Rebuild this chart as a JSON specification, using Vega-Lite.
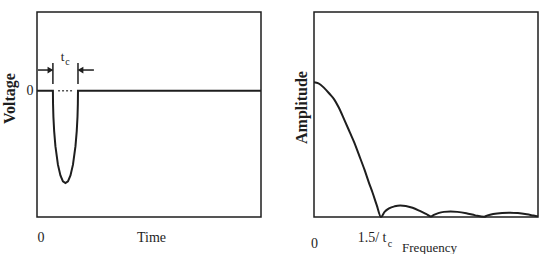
{
  "$schema": "https://vega.github.io/schema/vega-lite/v6.json",
  "padding": {"left": 0, "top": 11, "right": 0, "bottom": 0},
  "background": "white",
  "spacing": 53,
  "bounds": "flush",
  "config": {
    "font": "Liberation Serif",
    "view": {"stroke": "#1e1e1e", "strokeWidth": 1.5},
    "axis": {"grid": false, "ticks": false, "tickSize": 0, "domain": false, "labelColor": "#1e1e1e", "titleColor": "#1e1e1e", "labelFont": "Liberation Serif", "titleFont": "Liberation Serif"}
  },
  "hconcat": [
    {
      "width": 224,
      "height": 205,
      "layer": [
        {
          "data": {"values": [
            {"t": 0, "v": 0}, {"t": 0.071, "v": 0}, {"t": 0.0716, "v": -0.165}, {"t": 0.0732, "v": -0.328},
            {"t": 0.0766, "v": -0.51}, {"t": 0.0822, "v": -0.702}, {"t": 0.0934, "v": -0.936},
            {"t": 0.1046, "v": -1.073}, {"t": 0.1158, "v": -1.147}, {"t": 0.127, "v": -1.17},
            {"t": 0.1382, "v": -1.147}, {"t": 0.1494, "v": -1.073}, {"t": 0.1606, "v": -0.936},
            {"t": 0.1718, "v": -0.702}, {"t": 0.1774, "v": -0.51}, {"t": 0.1808, "v": -0.328},
            {"t": 0.1824, "v": -0.165}, {"t": 0.183, "v": 0}, {"t": 1, "v": 0}
          ]},
          "mark": {"type": "line", "color": "#1e1e1e", "strokeWidth": 2},
          "encoding": {
            "x": {"field": "t", "type": "quantitative", "scale": {"domain": [0, 1]},
              "axis": {"values": [0], "labelExpr": "'0'", "title": "Time", "titleX": 114, "titleY": 24, "titleBaseline": "alphabetic", "titleAngle": 0, "titleAlign": "center", "titleFontSize": 14, "titleFontWeight": "normal", "labelBaseline": "alphabetic", "labelPadding": 24, "labelFontSize": 14, "labelDx": -2}},
            "y": {"field": "v", "type": "quantitative", "scale": {"domain": [-1.6, 1]},
              "axis": {"values": [0], "labelExpr": "'0'", "title": "Voltage", "titleX": -23, "titleY": 86, "titleAngle": -90, "titleAlign": "center", "titleBaseline": "alphabetic", "titleFontSize": 16, "titleFontWeight": "bold", "labelFontSize": 14, "labelPadding": 4, "labelBaseline": "middle"}}
          }
        },
        {
          "data": {"values": [{"t": 0.094, "v": 0}, {"t": 0.161, "v": 0}]},
          "mark": {"type": "line", "color": "#555555", "strokeWidth": 1.5, "strokeDash": [2, 2]},
          "encoding": {"x": {"field": "t", "type": "quantitative"}, "y": {"field": "v", "type": "quantitative"}}
        },
        {
          "data": {"values": [{"t": 0.071, "y1": 0.087, "y2": 0.353}, {"t": 0.183, "y1": 0.087, "y2": 0.353}]},
          "mark": {"type": "rule", "color": "#1e1e1e", "strokeWidth": 1.5},
          "encoding": {"x": {"field": "t", "type": "quantitative"}, "y": {"field": "y1", "type": "quantitative"}, "y2": {"field": "y2"}}
        },
        {
          "data": {"values": [{"x1": 0.0045, "x2": 0.06, "y": 0.264}, {"x1": 0.194, "x2": 0.254, "y": 0.264}]},
          "mark": {"type": "rule", "color": "#1e1e1e", "strokeWidth": 1.5},
          "encoding": {"x": {"field": "x1", "type": "quantitative"}, "x2": {"field": "x2"}, "y": {"field": "y", "type": "quantitative"}}
        },
        {
          "data": {"values": [{"t": 0.06, "y": 0.264}]},
          "mark": {"type": "point", "shape": "triangle-right", "filled": true, "color": "#1e1e1e", "size": 45, "opacity": 1},
          "encoding": {"x": {"field": "t", "type": "quantitative"}, "y": {"field": "y", "type": "quantitative"}}
        },
        {
          "data": {"values": [{"t": 0.194, "y": 0.264}]},
          "mark": {"type": "point", "shape": "triangle-left", "filled": true, "color": "#1e1e1e", "size": 45, "opacity": 1},
          "encoding": {"x": {"field": "t", "type": "quantitative"}, "y": {"field": "y", "type": "quantitative"}}
        },
        {
          "data": {"values": [{"t": 0.114, "y": 0.378, "txt": "t"}]},
          "mark": {"type": "text", "font": "Liberation Serif", "fontSize": 13, "color": "#1e1e1e", "baseline": "alphabetic", "align": "center"},
          "encoding": {"x": {"field": "t", "type": "quantitative"}, "y": {"field": "y", "type": "quantitative"}, "text": {"field": "txt"}}
        },
        {
          "data": {"values": [{"t": 0.136, "y": 0.328, "txt": "c"}]},
          "mark": {"type": "text", "font": "Liberation Serif", "fontSize": 10, "color": "#1e1e1e", "baseline": "alphabetic", "align": "center"},
          "encoding": {"x": {"field": "t", "type": "quantitative"}, "y": {"field": "y", "type": "quantitative"}, "text": {"field": "txt"}}
        }
      ]
    },
    {
      "width": 224,
      "height": 205,
      "layer": [
        {
          "data": {"values": [
            {"f": 0, "a": 0.657}, {"f": 0.02, "a": 0.652}, {"f": 0.045, "a": 0.63}, {"f": 0.07, "a": 0.6},
            {"f": 0.09, "a": 0.574}, {"f": 0.11, "a": 0.535}, {"f": 0.135, "a": 0.475}, {"f": 0.16, "a": 0.413},
            {"f": 0.18, "a": 0.363}, {"f": 0.2, "a": 0.305}, {"f": 0.225, "a": 0.232}, {"f": 0.245, "a": 0.168},
            {"f": 0.262, "a": 0.117}, {"f": 0.28, "a": 0.058}, {"f": 0.299, "a": 0}, {"f": 0.315, "a": 0.025},
            {"f": 0.335, "a": 0.042}, {"f": 0.36, "a": 0.052}, {"f": 0.385, "a": 0.056}, {"f": 0.41, "a": 0.054},
            {"f": 0.44, "a": 0.045}, {"f": 0.47, "a": 0.031}, {"f": 0.5, "a": 0.015}, {"f": 0.522, "a": 0.003},
            {"f": 0.535, "a": 0.01}, {"f": 0.555, "a": 0.019}, {"f": 0.58, "a": 0.025}, {"f": 0.61, "a": 0.027},
            {"f": 0.64, "a": 0.025}, {"f": 0.68, "a": 0.018}, {"f": 0.72, "a": 0.008}, {"f": 0.759, "a": 0.001},
            {"f": 0.775, "a": 0.008}, {"f": 0.8, "a": 0.015}, {"f": 0.84, "a": 0.02}, {"f": 0.87, "a": 0.021},
            {"f": 0.91, "a": 0.019}, {"f": 0.95, "a": 0.013}, {"f": 0.98, "a": 0.007}, {"f": 1.0, "a": 0.003}
          ]},
          "mark": {"type": "line", "color": "#1e1e1e", "strokeWidth": 2, "interpolate": "monotone"},
          "encoding": {
            "x": {"field": "f", "type": "quantitative", "scale": {"domain": [0, 1]},
              "axis": {"values": [0, 0.299],
                "labelExpr": "datum.value == 0 ? '0' : '1.5/ t'",
                "labelAlign": {"condition": {"test": "datum.value == 0", "value": "center"}, "value": "right"},
                "labelOffset": {"condition": {"test": "datum.value == 0", "value": 0}, "value": 5},
                "labelPadding": {"condition": {"test": "datum.value == 0", "value": 30}, "value": 24},
                "labelBaseline": "alphabetic", "labelFontSize": 14,
                "title": "Frequency", "titleX": 115, "titleY": 34, "titleBaseline": "alphabetic", "titleAngle": 0, "titleAlign": "center", "titleFontSize": 13, "titleFontWeight": "normal"}},
            "y": {"field": "a", "type": "quantitative", "scale": {"domain": [0, 1]},
              "axis": {"values": [0], "labels": false, "title": "Amplitude", "titleX": -8, "titleY": 95, "titleAngle": -90, "titleAlign": "center", "titleBaseline": "alphabetic", "titleFontSize": 16, "titleFontWeight": "bold"}}
          }
        },
        {
          "data": {"values": [{"f": 0.339, "a": -0.145, "txt": "c"}]},
          "mark": {"type": "text", "font": "Liberation Serif", "fontSize": 10, "color": "#1e1e1e", "baseline": "alphabetic", "align": "center"},
          "encoding": {"x": {"field": "f", "type": "quantitative"}, "y": {"field": "a", "type": "quantitative"}, "text": {"field": "txt"}}
        }
      ]
    }
  ]
}
